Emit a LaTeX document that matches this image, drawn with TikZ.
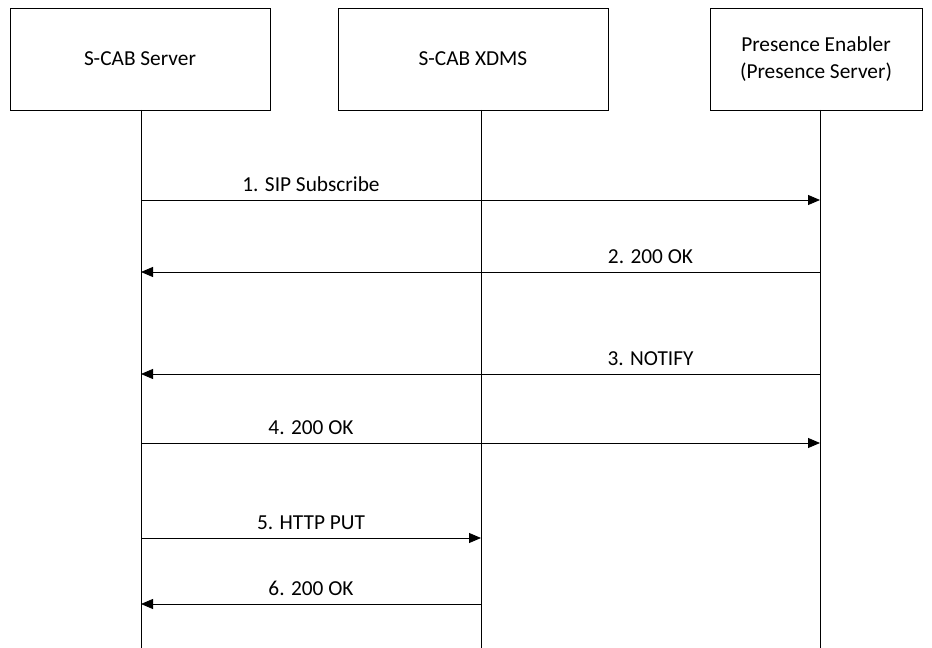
\documentclass[tikz,border=0pt]{standalone}
\usepackage{fontspec}
\setmainfont{Carlito}
\usetikzlibrary{arrows.meta,positioning,calc}

\tikzset{
  entity/.style={draw, line width=0.6pt, minimum width=#1, minimum height=76.5pt, align=center, inner sep=0pt},
  lifeline/.style={line width=0.6pt},
  msg/.style={line width=0.6pt, -{Triangle[length=9pt,width=7.5pt]}},
  lbl/.style={above=5pt, inner sep=1pt}
}

\begin{document}
\begin{tikzpicture}[x=0.75pt, y=-0.75pt, font=\fontsize{16}{20}\selectfont]
    \useasboundingbox (0,0) rectangle (932,648);
    %% Entities
    \node[entity=195pt] (server) at (140,59) {S-CAB Server};
    \node[entity=202.5pt] (xdms) at (473,59) {S-CAB XDMS};
    \node[entity=159pt] (pe) at (816,59) {Presence Enabler\\(Presence Server)};
    %% Lifelines
    \coordinate (bottom) at (0,648);
    \coordinate (l1) at (141,110);
    \coordinate (l2) at (481,110);
    \coordinate (l3) at (820,110);
    \draw[lifeline] (l1) -- (l1 |- bottom);
    \draw[lifeline] (l2) -- (l2 |- bottom);
    \draw[lifeline] (l3) -- (l3 |- bottom);
    %% Messages
    \coordinate (m1) at (0,200);
    \coordinate (m2) at (0,272);
    \coordinate (m3) at (0,374);
    \coordinate (m4) at (0,443);
    \coordinate (m5) at (0,538);
    \coordinate (m6) at (0,604);
    \draw[msg] (l1 |- m1) -- (l3 |- m1);
    \node[lbl] (t1) at ($(l1 |- m1)!0.5!(l2 |- m1)$) {1. SIP Subscribe};
    \draw[msg] (l3 |- m2) -- (l1 |- m2);
    \node[lbl] (t2) at ($(l2 |- m2)!0.5!(l3 |- m2)$) {2. 200 OK};
    \draw[msg] (l3 |- m3) -- (l1 |- m3);
    \node[lbl] (t3) at ($(l2 |- m3)!0.5!(l3 |- m3)$) {3. NOTIFY};
    \draw[msg] (l1 |- m4) -- (l3 |- m4);
    \node[lbl] (t4) at ($(l1 |- m4)!0.5!(l2 |- m4)$) {4. 200 OK};
    \draw[msg] (l1 |- m5) -- (l2 |- m5);
    \node[lbl] (t5) at ($(l1 |- m5)!0.5!(l2 |- m5)$) {5. HTTP PUT};
    \draw[msg] (l2 |- m6) -- (l1 |- m6);
    \node[lbl] (t6) at ($(l1 |- m6)!0.5!(l2 |- m6)$) {6. 200 OK};
\end{tikzpicture}
\end{document}
